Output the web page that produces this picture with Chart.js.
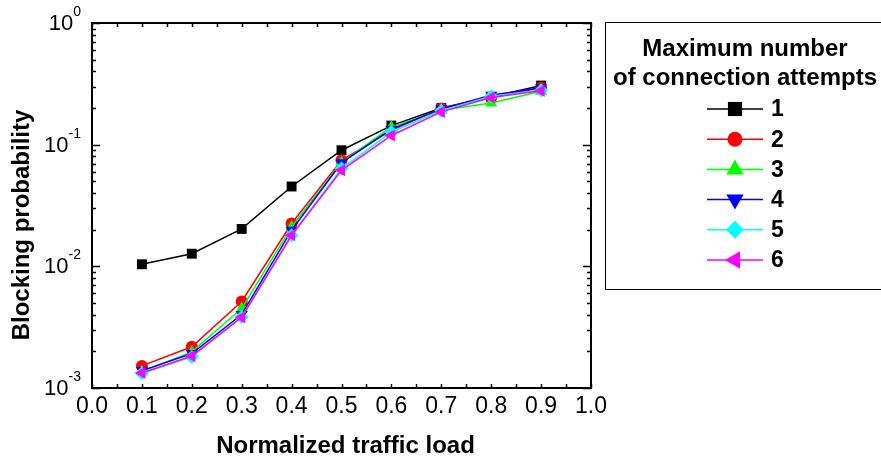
<!DOCTYPE html>
<html>
<head>
<meta charset="utf-8">
<script src="https://cdn.jsdelivr.net/npm/chart.js@4/dist/chart.umd.min.js"></script>
<style>
  html, body { margin: 0; padding: 0; background: #fff; }
  #wrap { width: 881px; height: 461px; position: relative; }
</style>
</head>
<body>
<div id="wrap"><canvas id="blockingChart"></canvas></div>
<script>
const loads = [0.1, 0.2, 0.3, 0.4, 0.5, 0.6, 0.7, 0.8, 0.9];
const attempts1 = [0.0104, 0.0127, 0.0203, 0.0453, 0.090, 0.1435, 0.200, 0.2466, 0.306];
const attempts2 = [0.00152, 0.00218, 0.00514, 0.0225, 0.0744, 0.131, 0.198, 0.245, 0.294];
const attempts3 = [0.00136, 0.00198, 0.0045, 0.0211, 0.0713, 0.140, 0.192, 0.220, 0.275];
const attempts4 = [0.00139, 0.00192, 0.00402, 0.0198, 0.071, 0.134, 0.197, 0.255, 0.294];
const attempts5 = [0.00132, 0.0018, 0.00384, 0.018, 0.0636, 0.127, 0.19, 0.25, 0.28];
const attempts6 = [0.00133, 0.00183, 0.00381, 0.018, 0.0616, 0.119, 0.186, 0.244, 0.277];

const seriesLabels = ["1", "2", "3", "4", "5", "6"];
const xTickLabels = ["0.0", "0.1", "0.2", "0.3", "0.4", "0.5", "0.6", "0.7", "0.8", "0.9", "1.0"];
const yExponents = [0, -1, -2, -3];
const legendTitle = ["Maximum number", "of connection attempts"];
const xTitle = "Normalized traffic load";
const yTitle = "Blocking probability";

const FONT = '"Liberation Sans", Arial, sans-serif';

const styles = [
  { color: "#000000", pointStyle: "rect", radius: 7, rotation: 0, legendRadius: 10 },
  { color: "#ff0000", pointStyle: "circle", radius: 6, rotation: 0, legendRadius: 7.5 },
  { color: "#00ff00", pointStyle: "triangle", radius: 7, rotation: 0, legendRadius: 10 },
  { color: "#0000ff", pointStyle: "triangle", radius: 7, rotation: 180, legendRadius: 10 },
  { color: "#00ffff", pointStyle: "rectRot", radius: 7, rotation: 0, legendRadius: 9 },
  { color: "#ff00ff", pointStyle: "triangle", radius: 7, rotation: 270, legendRadius: 10 },
];

const allSeries = [attempts1, attempts2, attempts3, attempts4, attempts5, attempts6];

const datasets = allSeries.map((values, i) => ({
  label: seriesLabels[i],
  data: values.map((v, j) => ({ x: loads[j], y: v })),
  borderColor: styles[i].color,
  backgroundColor: styles[i].color,
  borderWidth: 1.5,
  pointStyle: styles[i].pointStyle,
  pointRadius: styles[i].radius,
  pointRotation: styles[i].rotation,
  pointBorderWidth: 0,
  tension: 0,
  order: 6 - i,
}));

function marker(ctx, st, x, y, r) {
  ctx.fillStyle = st.color;
  ctx.strokeStyle = st.color;
  if (Chart.helpers && Chart.helpers.drawPoint) {
    Chart.helpers.drawPoint(ctx, { pointStyle: st.pointStyle, rotation: st.rotation, radius: r, borderWidth: 0 }, x, y);
  } else {
    ctx.beginPath();
    ctx.arc(x, y, r, 0, Math.PI * 2);
    ctx.fill();
  }
}

const axesPlugin = {
  id: "axesPlugin",
  beforeDatasetsDraw(chart) {
    const ctx = chart.ctx;
    const a = chart.chartArea;
    const xs = chart.scales.x;
    const ys = chart.scales.y;
    ctx.save();
    ctx.strokeStyle = "#000";
    ctx.lineWidth = 1.5;
    // x ticks every 0.05, inward on bottom and top
    for (let k = 0; k <= 20; k++) {
      const px = Math.round(xs.getPixelForValue(k * 0.05)) + 0.5;
      const len = 4;
      ctx.beginPath();
      ctx.moveTo(px, a.bottom);
      ctx.lineTo(px, a.bottom - len);
      ctx.moveTo(px, a.top);
      ctx.lineTo(px, a.top + len);
      ctx.stroke();
    }
    // y ticks: decades long, 2..9 short
    for (let e = -3; e <= 0; e++) {
      for (let m = 1; m <= 9; m++) {
        const v = m * Math.pow(10, e);
        if (v > 1) break;
        const py = Math.round(ys.getPixelForValue(v)) + 0.5;
        const len = m === 1 ? 8 : 4;
        ctx.beginPath();
        ctx.moveTo(a.left, py);
        ctx.lineTo(a.left + len, py);
        ctx.moveTo(a.right, py);
        ctx.lineTo(a.right - len, py);
        ctx.stroke();
      }
    }
    ctx.lineWidth = 2;
    ctx.strokeRect(a.left, a.top, a.right - a.left, a.bottom - a.top);
    ctx.restore();
  },
  afterDraw(chart) {
    const ctx = chart.ctx;
    const a = chart.chartArea;
    const xs = chart.scales.x;
    const ys = chart.scales.y;
    ctx.save();
    ctx.fillStyle = "#000";

    // x tick labels
    ctx.font = "23px " + FONT;
    ctx.textAlign = "center";
    ctx.textBaseline = "middle";
    xTickLabels.forEach((t, k) => {
      ctx.fillText(t, xs.getPixelForValue(k / 10), 407);
    });

    // y tick labels 10^n
    yExponents.forEach((e) => {
      const py = ys.getPixelForValue(Math.pow(10, e));
      ctx.font = "14px " + FONT;
      const exp = String(e);
      const ew = ctx.measureText(exp).width;
      const right = 81;
      ctx.textAlign = "left";
      ctx.textBaseline = "middle";
      ctx.fillText(exp, right - ew, py - 11);
      ctx.font = "22px " + FONT;
      ctx.textAlign = "right";
      ctx.fillText("10", right - ew, py + 1);
    });

    // axis titles
    ctx.font = "bold 24px " + FONT;
    ctx.textAlign = "center";
    ctx.textBaseline = "middle";
    ctx.fillText(xTitle, (a.left + a.right) / 2 + 4, 446);
    ctx.save();
    ctx.translate(22, 225);
    ctx.rotate(-Math.PI / 2);
    ctx.fillText(yTitle, 0, 0);
    ctx.restore();

    // legend box
    ctx.strokeStyle = "#000";
    ctx.lineWidth = 1;
    ctx.strokeRect(605.5, 22.5, 290, 267);
    ctx.font = "bold 24px " + FONT;
    ctx.textAlign = "center";
    ctx.fillText(legendTitle[0], 745, 49);
    ctx.fillText(legendTitle[1], 745, 78);

    seriesLabels.forEach((lab, i) => {
      const st = styles[i];
      const y = 109 + i * 30.2;
      ctx.strokeStyle = st.color;
      ctx.lineWidth = 1.5;
      ctx.beginPath();
      ctx.moveTo(707, y);
      ctx.lineTo(763, y);
      ctx.stroke();
      marker(ctx, st, 735, y, st.legendRadius);
      ctx.fillStyle = "#000";
      ctx.font = "bold 23px " + FONT;
      ctx.textAlign = "left";
      ctx.textBaseline = "middle";
      ctx.fillText(lab, 771, y + 1);
    });
    ctx.restore();
  },
};

const ctx = document.getElementById("blockingChart").getContext("2d");
new Chart(ctx, {
  type: "line",
  data: { datasets: datasets },
  options: {
    responsive: true,
    maintainAspectRatio: false,
    animation: false,
    layout: { padding: { left: 92, right: 290, top: 23, bottom: 73 } },
    plugins: {
      legend: { display: false },
      tooltip: { enabled: false },
    },
    scales: {
      x: { type: "linear", min: 0, max: 1, display: false },
      y: { type: "logarithmic", min: 0.001, max: 1, display: false },
    },
  },
  plugins: [axesPlugin],
});
</script>
</body>
</html>
